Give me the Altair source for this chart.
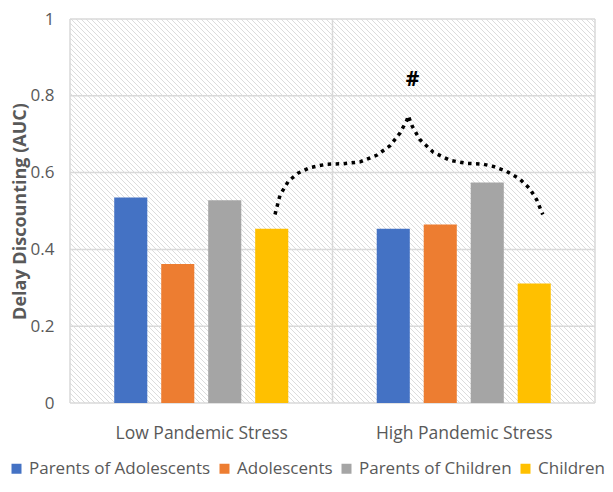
import altair as alt
import numpy as np
import pandas as pd

# ---- data ----
groups = ["Low Pandemic Stress", "High Pandemic Stress"]
series = ["Parents of Adolescents", "Adolescents", "Parents of Children", "Children"]
low_stress = [0.535, 0.362, 0.528, 0.454]
high_stress = [0.454, 0.465, 0.574, 0.311]
colors = ["#4472C4", "#ED7D31", "#A5A5A5", "#FFC000"]

y_ticks = [0, 0.2, 0.4, 0.6, 0.8, 1]
category_edges = [0, 1, 2]

# curly-brace annotation (data units)
brace_x = [0.781, 0.800, 0.832, 0.870, 0.914, 0.978, 1.041, 1.105, 1.168, 1.219,
           1.257, 1.283, 1.289, 1.302, 1.333, 1.384, 1.448, 1.511, 1.574, 1.613,
           1.664, 1.714, 1.752, 1.778, 1.801]
brace_y = [0.491, 0.541, 0.578, 0.599, 0.613, 0.622, 0.623, 0.628, 0.645, 0.670,
           0.703, 0.736, 0.748, 0.723, 0.686, 0.653, 0.632, 0.624, 0.622, 0.616,
           0.603, 0.583, 0.558, 0.529, 0.491]
sig_label = ["#"]
sig_x = [1.305]
sig_y = [0.842]

# ---- layout / style ----
PLOT_W, PLOT_H = 525, 384
FONT = "Open Sans"
TXT = "#595959"
GRID = "#d9d9d9"
STEP = 0.179      # spacing of bars inside a group (x units)
BAR_W = 0.126     # bar width (x units)

rows = []
for gi, vals in enumerate([low_stress, high_stress]):
    for si, (s, v) in enumerate(zip(series, vals)):
        c = gi + 0.5 + (si - 1.5) * STEP
        rows.append({"group": groups[gi], "series": s, "value": v, "base": 0.0,
                     "x0": c - BAR_W / 2, "x1": c + BAR_W / 2})
bars_df = pd.DataFrame(rows)

# diagonal hatch texture of the plot background
hx = np.arange(-PLOT_H / (PLOT_W / 2), 2.0, 5 / (PLOT_W / 2))
hatch_df = pd.DataFrame({"x0": hx, "x1": hx + PLOT_H / (PLOT_W / 2), "value": 1.0, "base": 0.0})

brace_df = pd.DataFrame({"x0": brace_x, "value": brace_y, "i": range(len(brace_x))})
sig_df = pd.DataFrame({"x0": sig_x, "value": sig_y, "t": sig_label})
hgrid_df = pd.DataFrame({"value": y_ticks})
vgrid_df = pd.DataFrame({"x0": category_edges})

x_scale = alt.Scale(domain=[0, 2], nice=False, zero=False, padding=0)
y_scale = alt.Scale(domain=[0, 1], nice=False, zero=False, padding=0)

x_axis = alt.Axis(
    values=[0.5, 1.5],
    labelExpr="datum.value < 1 ? '%s' : '%s'" % (groups[0], groups[1]),
    grid=False, ticks=False, tickSize=0, domain=False, labelFlush=False,
    labelPadding=21, labelFont=FONT, labelFontSize=17.5, labelColor=TXT, title=None,
)
y_axis = alt.Axis(
    values=y_ticks, format=".1~f", grid=False, ticks=False, tickSize=0, domain=False,
    labelPadding=16, labelFont=FONT, labelFontSize=17, labelColor=TXT,
    title="Delay Discounting (AUC)", titleFont=FONT, titleFontSize=18,
    titleFontWeight="bold", titleColor=TXT, titleAngle=270, titleBaseline="bottom",
    titleX=-41, titleY=PLOT_H / 2,
)

X = lambda: alt.X("x0:Q", scale=x_scale, axis=x_axis)
Y = lambda: alt.Y("value:Q", scale=y_scale, axis=y_axis)

hatch = alt.Chart(hatch_df).mark_rule(clip=True, stroke="#dcdcdc", strokeWidth=1).encode(
    x=X(), x2="x1", y=Y(), y2="base",
)
hgrid = alt.Chart(hgrid_df).mark_rule(stroke=GRID, strokeWidth=1.5).encode(y=Y())
vgrid = alt.Chart(vgrid_df).mark_rule(stroke=GRID, strokeWidth=1.5).encode(x=X())
bars = alt.Chart(bars_df).mark_bar(orient="vertical").encode(
    x=X(), x2="x1", y=Y(), y2="base",
    color=alt.Color(
        "series:N",
        scale=alt.Scale(domain=series, range=colors),
        legend=alt.Legend(
            orient="none", legendX=-62, legendY=441, direction="horizontal",
            title=None, symbolType="square", symbolSize=100, symbolStrokeWidth=0,
            symbolOpacity=1, labelFont=FONT, labelFontSize=17, labelColor=TXT,
            labelOffset=4, columnPadding=5, labelLimit=400, padding=0,
        ),
    ),
)
brace = alt.Chart(brace_df).mark_line(
    color="black", strokeWidth=3.5, strokeDash=[3.5, 4.5], strokeCap="butt",
    interpolate="linear",
).encode(x=X(), y=Y(), order="i:Q")
sig = alt.Chart(sig_df).mark_text(
    font=FONT, fontSize=21, fontWeight="bold", color="black", align="center", baseline="middle"
).encode(x=X(), y=Y(), text="t:N")

chart = alt.layer(hatch, hgrid, vgrid, bars, brace, sig).properties(
    width=PLOT_W, height=PLOT_H,
    padding={"left": 62, "top": 11, "right": 10, "bottom": 75},
    autosize=alt.AutoSizeParams(type="none"),
    background="white",
).configure_view(stroke=None)

chart.save("out.html", embed_options={"renderer": "svg", "actions": False})
